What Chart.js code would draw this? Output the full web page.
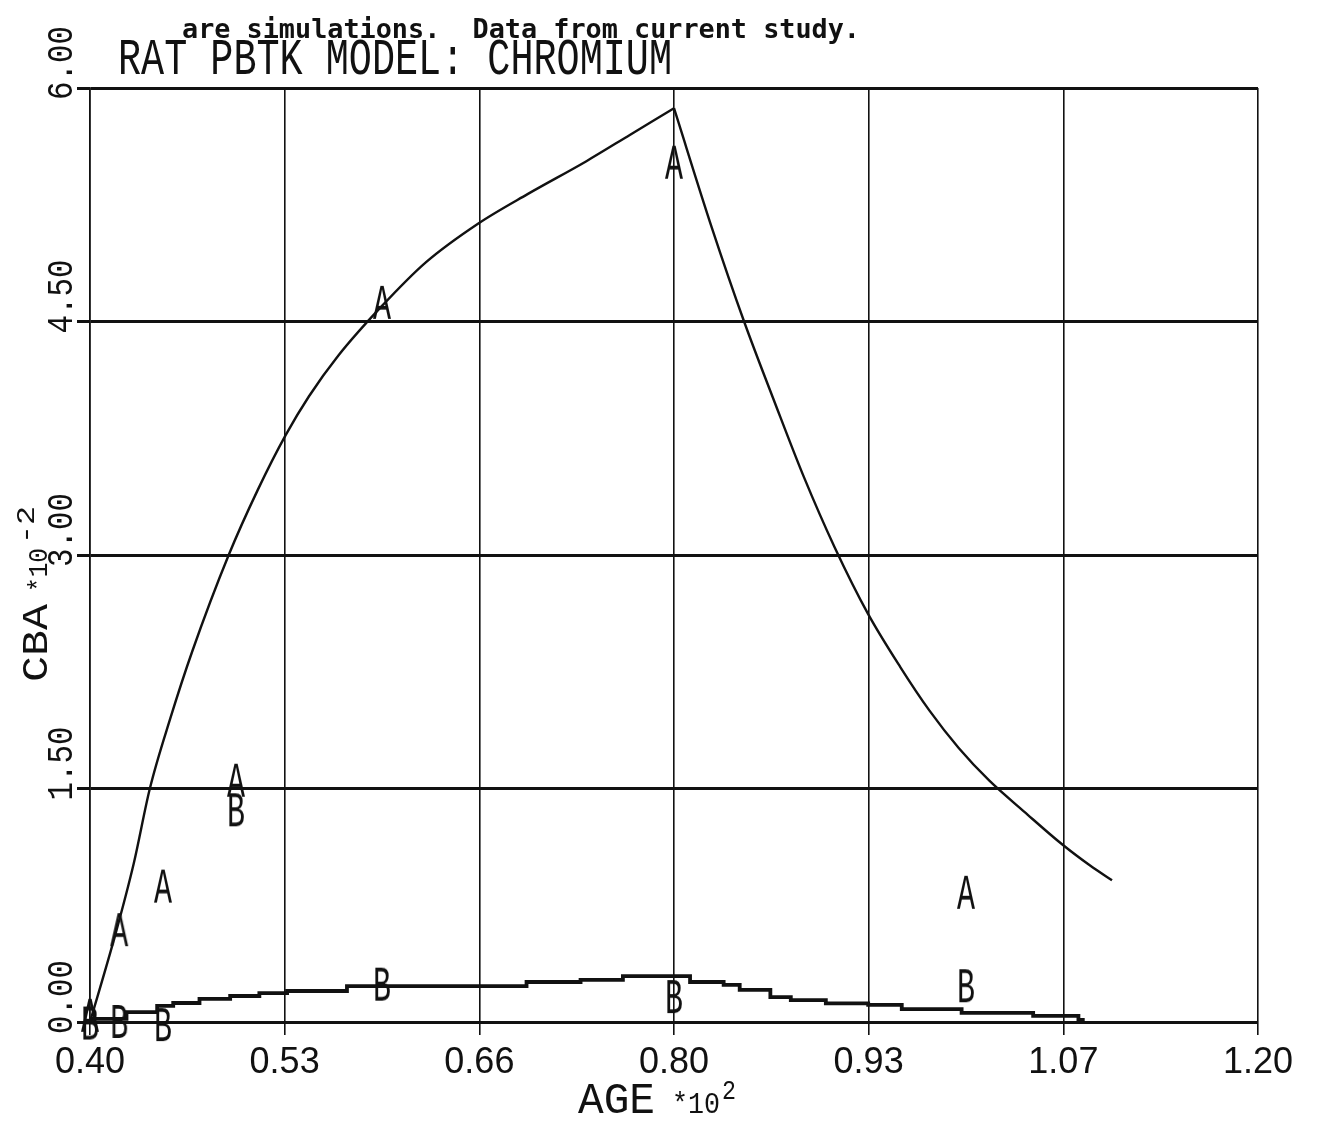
<!DOCTYPE html>
<html>
<head>
<meta charset="utf-8">
<title>Rat PBTK model: chromium</title>
<script src="https://cdn.jsdelivr.net/npm/chart.js@4.4.1/dist/chart.umd.min.js"></script>
<style>
  html, body { margin: 0; padding: 0; background: #fff; }
  #wrap { width: 1318px; height: 1123px; }
</style>
</head>
<body>
<div id="wrap"><canvas id="cba"></canvas></div>
<script>
// Age is in units of 10^2 days, CBA in units of 10^-2.
const xTickValues = [0.40, 0.5333, 0.6667, 0.80, 0.9333, 1.0667, 1.20];
const xTickLabels = ['0.40', '0.53', '0.66', '0.80', '0.93', '1.07', '1.20'];
const yTickValues = [0, 1.5, 3, 4.5, 6];
const yTickLabels = ['0.00', '1.50', '3.00', '4.50', '6.00'];

// simulated curve A, exposure phase (rises to the peak at 0.80)
const simAgeRise = [0.40, 0.417, 0.43, 0.441, 0.455, 0.47, 0.495, 0.515, 0.534, 0.55, 0.57, 0.60,
                    0.63, 0.666, 0.70, 0.74, 0.77, 0.80];
const simCbaRise = [0.00, 0.55, 1.02, 1.50, 1.95, 2.38, 3.00, 3.42, 3.77, 4.02, 4.28, 4.60,
                    4.88, 5.13, 5.32, 5.53, 5.70, 5.87];
// simulated curve A, washout after the peak
const simAgeFall = [0.80, 0.826, 0.848, 0.869, 0.889, 0.91, 0.933, 0.955, 0.975, 0.995, 1.016,
                    1.04, 1.066, 1.085, 1.10];
const simCbaFall = [5.87, 5.10, 4.50, 3.98, 3.50, 3.05, 2.62, 2.28, 2.00, 1.76, 1.55,
                    1.35, 1.14, 1.005, 0.91];

// simulated curve B (plotted as a staircase)
const simAgeB = [0.400, 0.402, 0.425, 0.446, 0.457, 0.475, 0.496, 0.516, 0.535, 0.576, 0.699, 0.736,
                 0.765, 0.811, 0.834, 0.845, 0.866, 0.88, 0.904, 0.933, 0.956, 0.997, 1.046, 1.077, 1.08];
const simCbaB = [0.00, 0.02, 0.064, 0.103, 0.122, 0.148, 0.167, 0.186, 0.199, 0.231, 0.257, 0.27,
                 0.295, 0.257, 0.238, 0.206, 0.16, 0.14, 0.12, 0.11, 0.083, 0.058, 0.039, 0.013, 0.0];

// measured points
const obsAgeA = [0.40, 0.42, 0.45, 0.50, 0.60, 0.80, 1.00];
const obsCbaA = [0.04, 0.59, 0.87, 1.55, 4.62, 5.52, 0.83];
const obsAgeB = [0.40, 0.42, 0.45, 0.50, 0.60, 0.80, 1.00];
const obsCbaB = [-0.01, 0.00, -0.02, 1.36, 0.24, 0.16, 0.23];

const captionTail = 'are simulations.  Data from current study.';
const titleText = 'RAT PBTK MODEL: CHROMIUM';

const INK = '#111';
const MONO = '"Liberation Mono", "DejaVu Sans Mono", monospace';

const pairs = (xs, ys) => xs.map((x, i) => ({ x: x, y: ys[i] }));

// draw text squeezed/stretched to a given advance width
function fitText(ctx, text, x, y, font, width) {
  ctx.save();
  ctx.font = font;
  const w = ctx.measureText(text).width;
  ctx.translate(x, y);
  ctx.scale(width / w, 1);
  ctx.fillText(text, 0, 0);
  ctx.restore();
}

// letter used as a point symbol
function letterMarker(ch) {
  const c = document.createElement('canvas');
  c.width = 22;
  c.height = 40;
  const g = c.getContext('2d');
  g.fillStyle = INK;
  g.textBaseline = 'alphabetic';
  g.font = '50px ' + MONO;
  const w = g.measureText(ch).width;
  g.translate(2, 36);
  g.scale(18 / w, 1);
  g.fillText(ch, 0, 0);
  return c;
}

const plotterText = {
  id: 'plotterText',
  afterDraw(chart) {
    const { ctx } = chart;
    const y = chart.scales.y;
    ctx.save();
    ctx.fillStyle = INK;
    ctx.textAlign = 'left';
    ctx.textBaseline = 'alphabetic';

    fitText(ctx, captionTail, 182, 38, 'bold 27px "DejaVu Sans Mono", monospace', 678);
    fitText(ctx, titleText, 118, 74, '52px ' + MONO, 554);

    // sideways y tick labels
    yTickValues.forEach((v, i) => {
      const py = y.getPixelForValue(v);
      ctx.save();
      ctx.translate(72, py + 12);
      ctx.rotate(-Math.PI / 2);
      fitText(ctx, yTickLabels[i], 0, 0, '36px ' + MONO, 74);
      ctx.restore();
    });

    // y axis title
    ctx.save();
    ctx.translate(47, 682);
    ctx.rotate(-Math.PI / 2);
    fitText(ctx, 'CBA', 0, 0, '36px ' + MONO, 78);
    fitText(ctx, '*10', 90, 0, '28px ' + MONO, 44);
    fitText(ctx, '-2', 138, -13, '26px ' + MONO, 38);
    ctx.restore();

    // x axis title
    fitText(ctx, 'AGE', 578, 1113, '45px ' + MONO, 77);
    fitText(ctx, '*10', 672, 1113, '30px ' + MONO, 48);
    fitText(ctx, '2', 722, 1099, '28px ' + MONO, 14);
    ctx.restore();
  }
};

const curveStyle = {
  showLine: true,
  borderColor: INK,
  borderWidth: 2.4,
  pointRadius: 0,
  cubicInterpolationMode: 'monotone'
};

new Chart(document.getElementById('cba'), {
  type: 'scatter',
  data: {
    datasets: [
      Object.assign({ label: 'A simulated, rise', data: pairs(simAgeRise, simCbaRise) }, curveStyle),
      Object.assign({ label: 'A simulated, fall', data: pairs(simAgeFall, simCbaFall) }, curveStyle),
      {
        label: 'B simulated',
        data: pairs(simAgeB, simCbaB),
        showLine: true,
        stepped: true,
        borderColor: INK,
        borderWidth: 3.8,
        pointRadius: 0
      },
      {
        label: 'A',
        data: pairs(obsAgeA, obsCbaA),
        showLine: false,
        pointStyle: letterMarker('A'),
        pointRadius: 6,
        clip: false
      },
      {
        label: 'B',
        data: pairs(obsAgeB, obsCbaB),
        showLine: false,
        pointStyle: letterMarker('B'),
        pointRadius: 6,
        clip: false
      }
    ]
  },
  options: {
    responsive: true,
    maintainAspectRatio: false,
    animation: false,
    devicePixelRatio: 1,
    layout: { padding: { top: 88, right: 60, left: 0, bottom: 0 } },
    plugins: {
      legend: { display: false },
      tooltip: { enabled: false }
    },
    scales: {
      x: {
        type: 'linear',
        min: 0.40,
        max: 1.20,
        afterBuildTicks: (s) => { s.ticks = xTickValues.map(v => ({ value: v })); },
        afterFit: (s) => { s.height = 101; },
        ticks: {
          autoSkip: false,
          maxRotation: 0,
          padding: 6,
          color: INK,
          font: { family: '"Liberation Sans Narrow", "Liberation Sans", sans-serif', size: 36 },
          callback: (v, i) => xTickLabels[i]
        },
        grid: { color: INK, lineWidth: 1.6, tickLength: 13, drawTicks: true },
        border: { color: INK, width: 3 }
      },
      y: {
        type: 'linear',
        min: 0,
        max: 6,
        afterBuildTicks: (s) => { s.ticks = yTickValues.map(v => ({ value: v })); },
        afterFit: (s) => { s.width = 90; },
        ticks: { display: false },
        grid: { color: INK, lineWidth: 3, tickLength: 13, drawTicks: true },
        border: { color: INK, width: 1.6 }
      }
    }
  },
  plugins: [plotterText]
});
</script>
</body>
</html>
